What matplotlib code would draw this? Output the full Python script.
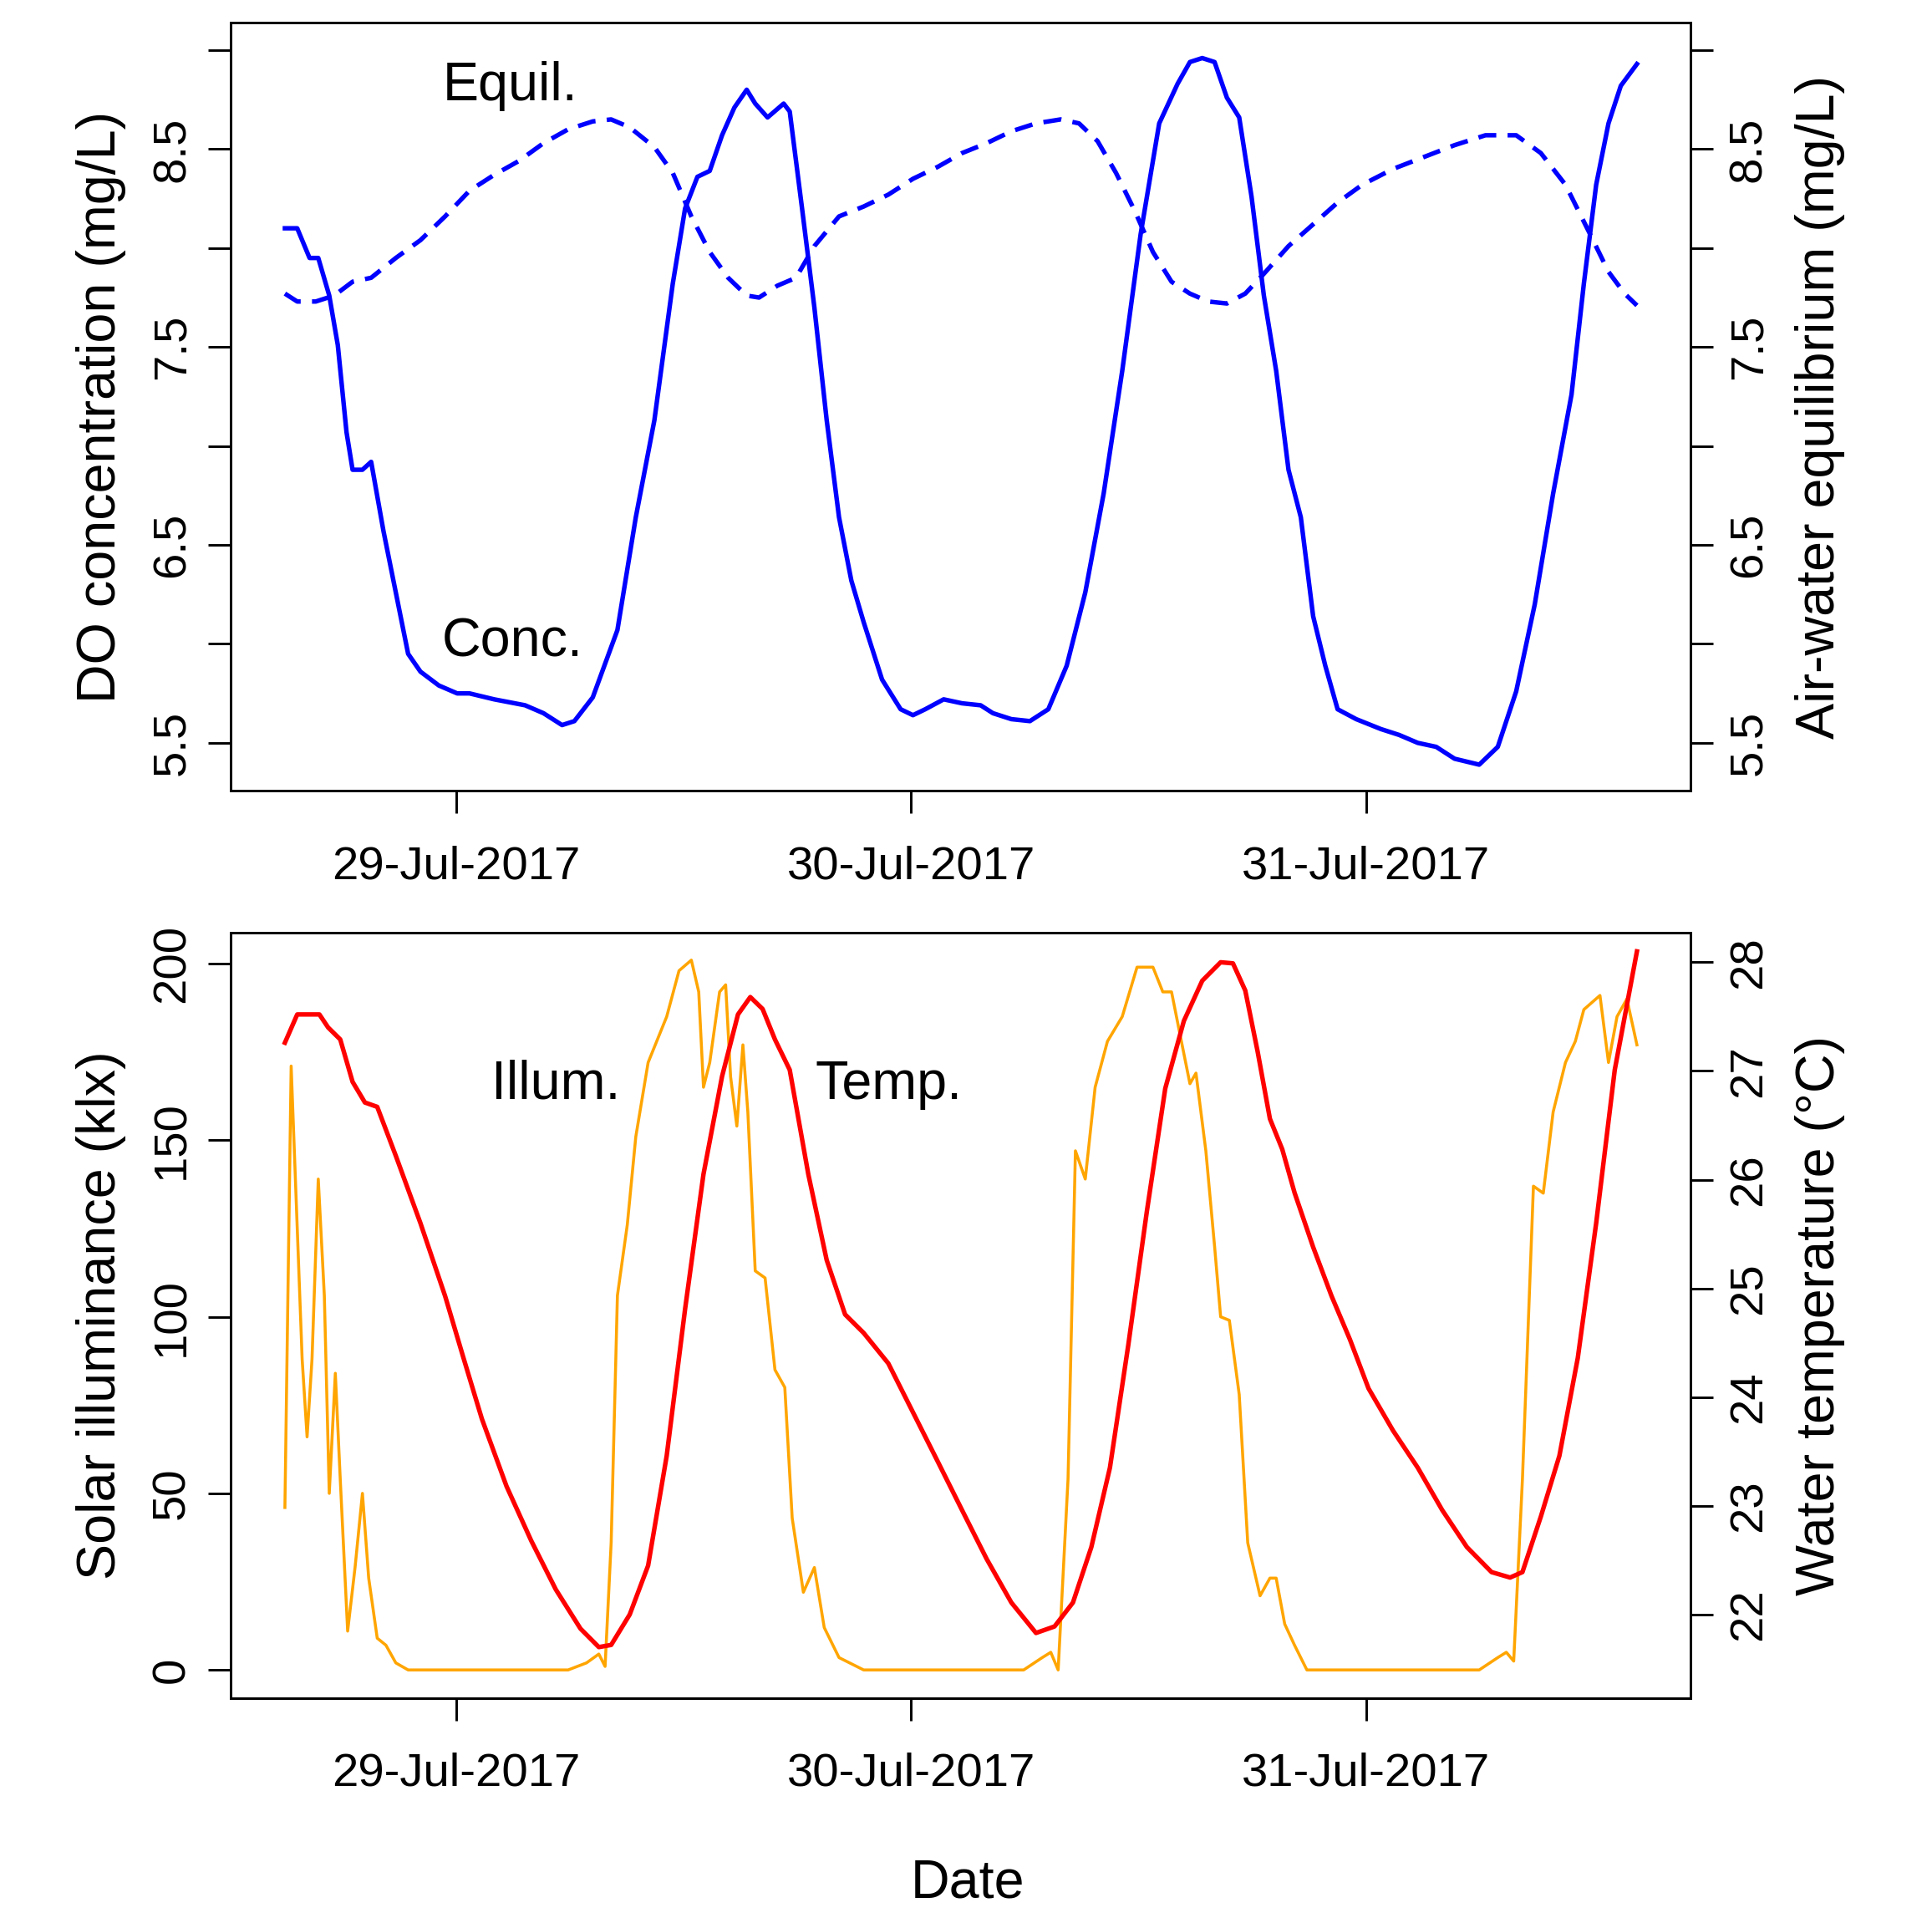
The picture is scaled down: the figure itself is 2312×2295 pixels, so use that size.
import numpy as np
import matplotlib
matplotlib.use("Agg")
import matplotlib.pyplot as plt

plt.rcParams["font.family"] = "Liberation Sans"

# hours relative to 29-Jul-2017 00:00
conc_t = [-9.03,-8.38,-7.73,-7.27,-6.69,-6.24,-5.78,-5.46,-4.94,-4.48,-3.83,-3.18,-2.53,-1.88,-0.91,0.06,0.71,2.01,3.64,4.61,5.59,6.24,7.21,8.51,9.48,10.46,11.43,12.08,12.73,13.38,14.03,14.68,15.33,15.78,16.43,17.28,17.60,18.25,18.90,19.55,20.20,20.85,21.50,22.47,23.45,24.10,24.75,25.72,26.69,27.67,28.32,29.29,30.27,31.24,32.21,33.19,34.16,35.14,36.11,37.09,38.06,38.71,39.36,40.01,40.66,41.31,41.96,42.61,43.26,43.91,44.56,45.21,45.85,46.50,47.48,48.78,49.75,50.73,51.70,52.67,53.97,54.95,55.92,56.90,57.87,58.84,59.49,60.14,60.79,61.44,62.29]
conc_v = [8.10,8.10,7.95,7.95,7.76,7.51,7.07,6.88,6.88,6.92,6.57,6.26,5.95,5.86,5.79,5.75,5.75,5.72,5.69,5.65,5.59,5.61,5.73,6.07,6.64,7.13,7.82,8.20,8.36,8.39,8.57,8.71,8.80,8.73,8.66,8.73,8.69,8.20,7.70,7.13,6.64,6.32,6.11,5.82,5.67,5.64,5.67,5.72,5.70,5.69,5.65,5.62,5.61,5.67,5.89,6.26,6.76,7.38,8.07,8.63,8.83,8.94,8.96,8.94,8.76,8.66,8.26,7.76,7.38,6.88,6.64,6.14,5.89,5.67,5.62,5.57,5.54,5.50,5.48,5.42,5.39,5.48,5.76,6.20,6.76,7.26,7.82,8.32,8.63,8.82,8.93]

equil_t = [-9.03,-8.38,-7.40,-6.43,-5.46,-4.48,-3.18,-1.88,-0.58,0.71,2.01,3.31,4.61,5.91,7.21,8.18,9.16,10.46,11.43,12.41,13.38,14.35,15.33,15.98,16.95,17.93,18.90,20.20,21.50,22.80,24.10,25.40,26.69,27.99,29.29,30.59,31.89,32.86,33.84,34.81,35.79,36.76,37.74,38.71,39.68,40.66,41.63,42.61,43.91,45.21,46.50,47.80,49.43,51.05,52.67,54.30,55.92,57.22,58.52,59.82,60.79,61.64,62.29]
equil_v = [7.77,7.73,7.73,7.76,7.83,7.85,7.95,8.04,8.16,8.29,8.37,8.44,8.53,8.60,8.64,8.65,8.61,8.51,8.38,8.16,7.98,7.85,7.76,7.75,7.81,7.85,8.01,8.16,8.21,8.27,8.35,8.41,8.48,8.53,8.59,8.63,8.65,8.63,8.54,8.38,8.19,7.98,7.83,7.77,7.73,7.72,7.77,7.87,8.01,8.12,8.23,8.32,8.40,8.46,8.52,8.57,8.57,8.48,8.32,8.07,7.88,7.77,7.71]

illum_t = [-9.03,-8.70,-8.12,-7.86,-7.60,-7.27,-6.95,-6.69,-6.37,-6.11,-5.72,-5.33,-4.94,-4.61,-4.16,-3.70,-3.18,-2.53,5.91,6.88,7.53,7.86,8.18,8.51,9.03,9.48,10.13,11.11,11.76,12.41,12.80,13.05,13.38,13.90,14.22,14.48,14.81,15.13,15.39,15.78,16.30,16.82,17.34,17.73,18.32,18.90,19.42,20.20,21.50,29.94,30.92,31.37,31.76,32.28,32.67,33.19,33.71,34.36,35.14,35.92,36.76,37.28,37.74,38.26,38.71,39.03,39.55,40.01,40.33,40.79,41.31,41.76,42.41,42.93,43.26,43.71,44.23,44.88,53.97,54.95,55.40,55.79,56.25,56.83,57.35,57.87,58.52,59.04,59.49,60.34,60.79,61.24,61.76,62.29]
illum_v = [46,171,88,66,88,139,106,50,84,54,11,29,50,26,9,7,2,0,0,2,4.5,1,36,106,126,151,172,185,198,201,192,165,172,192,194,168,154,177,158,113,111,85,80,43,22,29,12,3.5,0,0,3.5,5,0,54,147,139,165,178,185,199,199,192,192,178,166,169,147,120,100,99,78,36,21,26,26,13,7,0,0,3.5,5,2.5,54,137,135,158,172,178,187,191,172,185,190,177]

temp_t = [-9.03,-8.38,-7.73,-7.21,-6.75,-6.11,-5.46,-4.81,-4.16,-3.18,-1.88,-0.58,0.39,1.36,2.66,3.96,5.26,6.56,7.53,8.18,9.16,10.13,11.11,12.08,13.05,14.03,14.87,15.52,16.17,16.82,17.60,18.58,19.55,20.52,21.50,22.80,24.10,25.40,26.69,27.99,29.29,30.59,31.57,32.54,33.51,34.49,35.46,36.44,37.41,38.39,39.36,40.33,40.98,41.63,42.28,42.93,43.58,44.23,45.21,46.18,47.15,48.13,49.43,50.73,52.02,53.32,54.62,55.60,56.25,57.22,58.20,59.17,60.14,61.12,62.29]
temp_v = [27.26,27.52,27.52,27.52,27.40,27.29,26.90,26.71,26.67,26.22,25.60,24.93,24.36,23.80,23.18,22.68,22.23,21.87,21.70,21.72,22.00,22.45,23.46,24.81,26.05,26.95,27.52,27.68,27.57,27.29,27.01,26.05,25.26,24.76,24.59,24.31,23.86,23.41,22.96,22.51,22.11,21.83,21.89,22.11,22.62,23.35,24.48,25.71,26.84,27.46,27.83,28.00,27.99,27.74,27.18,26.56,26.28,25.88,25.38,24.93,24.53,24.08,23.69,23.35,22.96,22.62,22.39,22.34,22.39,22.90,23.46,24.36,25.60,27.01,28.10]

date_ticks = [0, 1, 2]
date_labels = ["29-Jul-2017", "30-Jul-2017", "31-Jul-2017"]

FS = 27
LFS = 31

def days(h):
    return np.asarray(h) / 24.0

fig = plt.figure(figsize=(2312/150, 2295/150), dpi=150)
ax1 = fig.add_axes([0.1195, 0.5876, 0.7557, 0.4007])
ax2 = fig.add_axes([0.1195, 0.1146, 0.7557, 0.3990])

def style(ax):
    for s in ax.spines.values():
        s.set_linewidth(1.4)
    ax.tick_params(direction="out", length=13, width=1.4, labelsize=FS, pad=8)

xl = (-0.495, 2.714)
ax1.plot(days(conc_t), conc_v, color="#0000ff", lw=2.6, solid_joinstyle="round")
ax1.set_xlim(xl); ax1.set_ylim(5.257, 9.14)
ax1b = ax1.twinx()
ax1b.plot(days(equil_t), equil_v, color="#0000ff", lw=2.6, ls=(0, (4, 2.5)))
ax1b.set_ylim(5.257, 9.14)
for a in (ax1, ax1b):
    a.set_yticks(np.arange(5.5, 9.01, 0.5))
    a.set_yticklabels(["5.5", "", "6.5", "", "7.5", "", "8.5", ""], rotation=90, va="center")
    style(a)
ax1.set_xticks(date_ticks); ax1.set_xticklabels(date_labels)
ax1.tick_params(axis="x", pad=18)
ax1.set_ylabel("DO concentration (mg/L)", fontsize=LFS, labelpad=14)
ax1b.set_ylabel("Air-water equilibrium (mg/L)", fontsize=LFS, labelpad=14)
ax1.text(0.119, 8.82, "Equil.", fontsize=LFS, ha="center", va="center")
ax1.text(0.124, 6.01, "Conc.", fontsize=LFS, ha="center", va="center")

ax2.plot(days(illum_t), illum_v, color="#ffa500", lw=1.7, solid_joinstyle="round")
ax2.set_xlim(xl); ax2.set_ylim(-8.0, 208.7)
ax2b = ax2.twinx()
ax2b.plot(days(temp_t), temp_v, color="#ff0000", lw=2.6, solid_joinstyle="round")
ax2b.set_ylim(21.23, 28.27)
ax2.set_yticks([0, 50, 100, 150, 200])
ax2.set_yticklabels(["0", "50", "100", "150", "200"], rotation=90, va="center")
ax2b.set_yticks(range(22, 29))
ax2b.set_yticklabels([str(v) for v in range(22, 29)], rotation=90, va="center")
style(ax2); style(ax2b)
ax2.set_xticks(date_ticks); ax2.set_xticklabels(date_labels)
ax2.tick_params(axis="x", pad=18)
ax2.set_ylabel("Solar illuminance (klx)", fontsize=LFS, labelpad=14)
ax2b.set_ylabel("Water temperature (°C)", fontsize=LFS, labelpad=14)
ax2.text(0.219, 165.7, "Illum.", fontsize=LFS, ha="center", va="center")
ax2.text(0.95, 165.7, "Temp.", fontsize=LFS, ha="center", va="center")
fig.text(0.501, 0.018, "Date", fontsize=LFS, ha="center", va="center")

fig.savefig("out.png", dpi=150)
